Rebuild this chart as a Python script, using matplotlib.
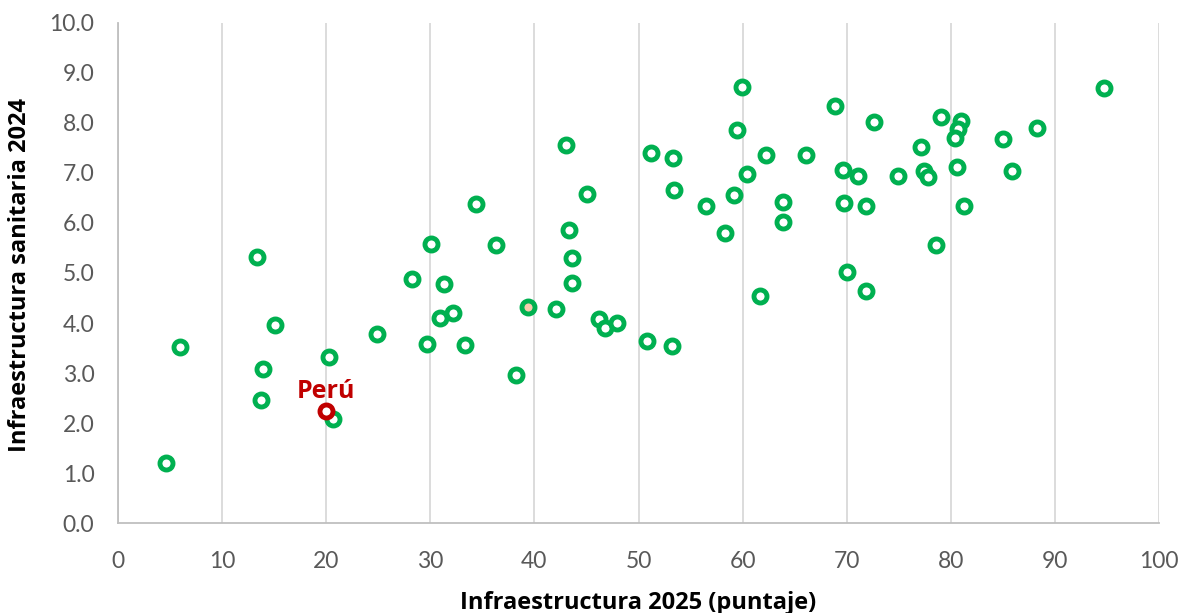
import matplotlib.pyplot as plt

# Infraestructura 2025 (puntaje) vs Infraestructura sanitaria 2024
x_vals = [4.6, 6.0, 13.4, 15.1, 13.9, 13.7, 20.3, 20.7, 24.9, 28.2,
          30.1, 31.3, 32.2, 30.9, 29.7, 33.3, 34.4, 36.3, 38.2, 42.1,
          43.0, 43.3, 43.6, 43.6, 45.1, 46.2, 46.8, 47.9, 50.8, 51.2,
          53.2, 53.3, 53.4, 56.5, 58.3, 59.5, 59.2, 59.9, 60.4, 61.7,
          62.2, 63.9, 63.9, 66.1, 68.9, 69.6, 69.7, 70.0, 71.1, 71.9,
          71.9, 72.6, 74.9, 77.1, 77.4, 77.8, 78.6, 79.1, 81.0, 80.7,
          80.4, 80.6, 81.3, 85.0, 85.9, 88.3, 94.7]
y_vals = [1.21, 3.53, 5.31, 3.97, 3.08, 2.47, 3.32, 2.09, 3.79, 4.88,
          5.57, 4.79, 4.21, 4.11, 3.59, 3.57, 6.37, 5.55, 2.96, 4.29,
          7.56, 5.85, 5.29, 4.81, 6.58, 4.08, 3.91, 4.01, 3.64, 7.39,
          3.54, 7.29, 6.66, 6.33, 5.79, 7.86, 6.55, 8.71, 6.97, 4.55,
          7.35, 6.42, 6.01, 7.35, 8.34, 7.06, 6.39, 5.01, 6.94, 6.34,
          4.65, 8.01, 6.93, 7.51, 7.03, 6.91, 5.55, 8.11, 8.04, 7.88,
          7.70, 7.11, 6.34, 7.68, 7.03, 7.89, 8.70]

# highlighted point (orange fill)
hl_x = [39.4]
hl_y = [4.33]

peru_x = [20.0]
peru_y = [2.25]

green = '#00B050'
peru_col = '#C00000'
grey_txt = '#595959'

plt.rcParams['font.family'] = ['Lato', 'DejaVu Sans']
bold_font = ['Open Sans', 'DejaVu Sans']

fig, ax = plt.subplots(figsize=(11.81, 6.13), dpi=100)
plt.subplots_adjust(left=0.0999, right=0.9814, top=0.9625, bottom=0.1468)

mk = dict(s=88, linewidths=3.5)
ax.scatter(x_vals, y_vals, facecolors='white', edgecolors=green, zorder=3, **mk)
ax.scatter(hl_x, hl_y, facecolors='#F8CBAD', edgecolors=green, zorder=3, **mk)
ax.scatter(peru_x, peru_y, facecolors='white', edgecolors=peru_col, zorder=4, **mk)
ax.annotate('Perú', (peru_x[0], peru_y[0]), xytext=(0, 14),
            textcoords='offset points', ha='center', va='center',
            color=peru_col, fontsize=18, fontweight='bold', family=bold_font)

ax.set_xlim(0, 100)
ax.set_ylim(0, 10)
ax.set_xticks(range(0, 101, 10))
ax.set_yticks([i for i in range(0, 11)])
ax.set_yticklabels(['%.1f' % i for i in range(0, 11)])
ax.tick_params(length=0, labelsize=16.5, colors=grey_txt)
ax.tick_params(axis='x', pad=20)
ax.tick_params(axis='y', pad=17)

ax.grid(axis='x', color='#D9D9D9', linewidth=1.3)
ax.set_axisbelow(True)
for s in ['top', 'right']:
    ax.spines[s].set_visible(False)
for s in ['left', 'bottom']:
    ax.spines[s].set_color('#BFBFBF')
    ax.spines[s].set_linewidth(1.3)

ax.set_xlabel('Infraestructura 2025 (puntaje)', fontsize=17,
              fontweight='bold', color='black', family=bold_font, va='center')
ax.set_ylabel('Infraestructura sanitaria 2024', fontsize=17,
              fontweight='bold', color='black', family=bold_font, va='center')
ax.xaxis.set_label_coords(0.5, -0.16)
ax.yaxis.set_label_coords(-0.094, 0.495)

plt.savefig('out.png')
